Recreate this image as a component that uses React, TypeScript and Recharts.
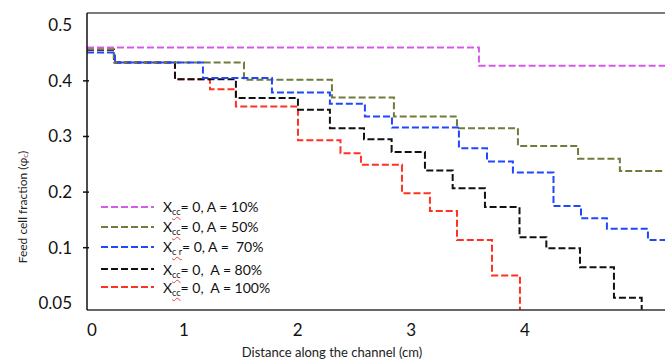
import React from 'react';
import { LineChart, Line, XAxis, YAxis, ReferenceLine } from 'recharts';

// axis range (the picture's axes: left edge is labelled "0", bottom edge "0.05")
const X_MIN = 0.147;
const X_MAX = 5.232;
const Y_MIN = -0.012;
const Y_MAX = 0.522;

const X_TICKS = [0.19, 1, 2, 3, 4];
const X_TICK_LABELS = ['0', '1', '2', '3', '4'];
const Y_TICKS = [0, 0.1, 0.2, 0.3, 0.4, 0.5];
const Y_TICK_LABELS = ['0.05', '0.1', '0.2', '0.3', '0.4', '0.5'];

// step start positions (cm) and feed cell fraction for each case
const A10_X = [0.147, 3.595, 5.232];
const A10_Y = [0.46, 0.427, 0.427];

const A50_X = [0.147, 0.384, 1.528, 2.302, 2.847, 3.402, 3.938, 4.467, 4.835, 5.232];
const A50_Y = [0.457, 0.433, 0.402, 0.37, 0.336, 0.315, 0.283, 0.26, 0.238, 0.238];

const A70_X = [0.147, 0.393, 1.167, 1.774, 2.284, 2.592, 2.83, 3.419, 3.666, 3.894, 4.251, 4.493, 4.721, 5.082, 5.232];
const A70_Y = [0.451, 0.433, 0.405, 0.379, 0.359, 0.336, 0.316, 0.279, 0.255, 0.235, 0.175, 0.153, 0.134, 0.114, 0.114];

const A80_X = [0.147, 0.384, 0.921, 1.457, 2.003, 2.284, 2.584, 2.827, 3.12, 3.364, 3.648, 3.952, 4.188, 4.484, 4.783, 5.027];
const A80_Y = [0.456, 0.433, 0.403, 0.369, 0.348, 0.315, 0.295, 0.272, 0.239, 0.207, 0.173, 0.119, 0.099, 0.065, 0.01, -0.012];

const A100_X = [0.147, 0.384, 0.921, 1.229, 1.457, 2.003, 2.377, 2.557, 2.918, 3.164, 3.402, 3.71, 3.956];
const A100_Y = [0.456, 0.433, 0.403, 0.385, 0.354, 0.293, 0.27, 0.249, 0.198, 0.166, 0.114, 0.05, -0.012];

const SERIES_SUB = ['cc', 'cc', 'c r', 'cc', 'cc'];
const SERIES_TEXT = ['= 0, A = 10%', '= 0, A = 50%', '= 0, A =  70%', '= 0,  A = 80%', '= 0,  A = 100%'];
const SERIES_COLORS = ['#d65ae8', '#6e7c3c', '#2146ff', '#111111', '#ff3222'];

const toPoints = (xs: number[], ys: number[]) => xs.map((x, i) => ({ x, y: ys[i] }));

const SERIES = [
  toPoints(A10_X, A10_Y),
  toPoints(A50_X, A50_Y),
  toPoints(A70_X, A70_Y),
  toPoints(A80_X, A80_Y),
  toPoints(A100_X, A100_Y),
].map((data, i) => ({ data, sub: SERIES_SUB[i], text: SERIES_TEXT[i], color: SERIES_COLORS[i] }));

// drawing order: red at the back, magenta on top
const DRAW_ORDER = [4, 3, 1, 2, 0];
const LEGEND_TOPS = [206.7, 226.7, 246.7, 269.3, 287.3];

const FONT = 'Lato, "Open Sans", sans-serif';
const PLOT_LEFT = 87;
const PLOT_BOTTOM = 310;
const DASH = '7 3';

const YTick = (props: any) => {
  const { y, payload } = props;
  const idx = Y_TICKS.indexOf(payload.value);
  const inner = payload.value > 0 && payload.value < 0.5;
  return (
    <g>
      {inner && <line x1={PLOT_LEFT - 4} x2={PLOT_LEFT + 2} y1={y} y2={y} stroke="#111" strokeWidth={1.5} />}
      <text x={72} y={y} dy="0.35em" textAnchor="end" fontSize={17} fill="#111" fontFamily={FONT}>
        {Y_TICK_LABELS[idx]}
      </text>
    </g>
  );
};

const XTick = (props: any) => {
  const { x, payload } = props;
  const idx = X_TICKS.indexOf(payload.value);
  return (
    <text x={x} y={PLOT_BOTTOM + 20} dy="0.35em" textAnchor="middle" fontSize={17} fill="#111" fontFamily={FONT}>
      {X_TICK_LABELS[idx]}
    </text>
  );
};

const squiggle: React.CSSProperties = {
  fontSize: 9,
  position: 'relative',
  top: 3,
  textDecorationLine: 'underline',
  textDecorationStyle: 'wavy',
  textDecorationColor: '#e8453a',
  textUnderlineOffset: 1,
};

const App = () => (
  <div style={{ position: 'absolute', left: 0, top: 0, width: 665, height: 361, background: '#fff', fontFamily: FONT }}>
    <LineChart width={665} height={361} margin={{ top: 13, right: 0, bottom: 0, left: 0 }}>
      <XAxis
        type="number"
        dataKey="x"
        domain={[X_MIN, X_MAX]}
        allowDataOverflow
        ticks={X_TICKS}
        interval={0}
        tick={XTick}
        tickLine={false}
        axisLine={{ stroke: '#333', strokeWidth: 1.5 }}
        height={51}
        label={{
          content: () => (
            <text x={332} y={352} textAnchor="middle" dominantBaseline="central" fontSize={13} fill="#222" fontFamily={FONT}>
              Distance along the channel (cm)
            </text>
          ),
        }}
      />
      <YAxis
        type="number"
        dataKey="y"
        domain={[Y_MIN, Y_MAX]}
        allowDataOverflow
        ticks={Y_TICKS}
        interval={0}
        tick={YTick}
        tickLine={false}
        axisLine={{ stroke: '#111', strokeWidth: 1.5 }}
        width={87}
        label={{
          content: () => (
            <text
              x={22}
              y={207}
              transform="rotate(-90 22 207)"
              textAnchor="middle"
              dominantBaseline="central"
              fontSize={12}
              fill="#222"
              fontFamily={FONT}
            >
              Feed cell fraction (φ<tspan fontSize={8} dy={3} fill="#b44">c</tspan>
              <tspan dy={-3}>)</tspan>
            </text>
          ),
        }}
      />
      <ReferenceLine y={Y_MAX} stroke="#7c7c7c" strokeWidth={2} ifOverflow="visible" />
      {DRAW_ORDER.map((i) => (
        <Line
          key={i}
          data={SERIES[i].data}
          dataKey="y"
          type="stepAfter"
          stroke={SERIES[i].color}
          strokeWidth={2}
          strokeDasharray={DASH}
          dot={false}
          activeDot={false}
          isAnimationActive={false}
        />
      ))}
    </LineChart>
    {SERIES.map((s, i) => (
      <div
        key={i}
        style={{
          position: 'absolute',
          left: 100,
          top: LEGEND_TOPS[i] - 9,
          height: 18,
          display: 'flex',
          alignItems: 'center',
          whiteSpace: 'pre',
          fontSize: 14,
          color: '#111',
        }}
      >
        <svg width={55} height={6} style={{ marginRight: 8 }}>
          <line x1={1} x2={54} y1={3} y2={3} stroke={s.color} strokeWidth={2} strokeDasharray={DASH} />
        </svg>
        <span>
          X<span style={squiggle}>{s.sub}</span>
          {s.text}
        </span>
      </div>
    ))}
  </div>
);

export default App;
